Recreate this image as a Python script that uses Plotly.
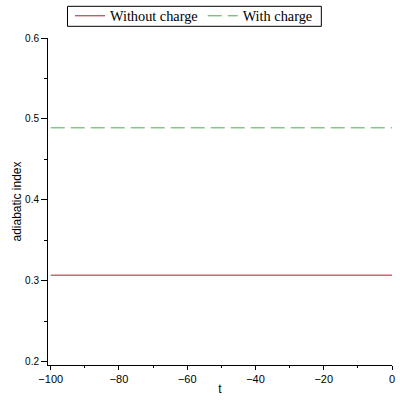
import plotly.graph_objects as go

t_vals = [-100, 0]
without_charge = [0.307, 0.307]
with_charge = [0.489, 0.489]
x_ticks = [-100, -80, -60, -40, -20, 0]
x_tick_text = ["\u2212100", "\u221280", "\u221260", "\u221240", "\u221220", "0"]
x_minor = [-90, -70, -50, -30, -10]
y_ticks = [0.2, 0.3, 0.4, 0.5, 0.6]
y_tick_text = ["0.2", "0.3", "0.4", "0.5", "0.6"]
y_minor = [0.25, 0.35, 0.45, 0.55]

fig = go.Figure()
fig.add_trace(go.Scatter(x=t_vals, y=without_charge, mode="lines", name="Without charge",
                         line=dict(color="rgb(180,25,45)", width=1)))
fig.add_trace(go.Scatter(x=t_vals, y=with_charge, mode="lines", name="With charge",
                         line=dict(color="rgb(70,175,70)", width=1, dash="14px,6px")))

fig.update_layout(
    width=400, height=400,
    margin=dict(l=47.5, r=8.3, t=37.7, b=35, autoexpand=False),
    paper_bgcolor="white", plot_bgcolor="white",
    showlegend=True,
    legend=dict(orientation="h", xref="container", yref="container",
                x=0.175, y=0.96, xanchor="left", yanchor="middle",
                borderwidth=0, bgcolor="rgba(0,0,0,0)",
                font=dict(family="Liberation Serif", size=14.3, color="black"),
                tracegroupgap=0, itemwidth=30),
    font=dict(family="Liberation Sans", size=10, color="black"),
    shapes=[dict(type="rect", xref="paper", yref="paper",
                 x0=0.0567, x1=0.7946, y0=1.0357, y1=1.0969,
                 line=dict(color="black", width=1), fillcolor="rgba(0,0,0,0)")],
)
fig.update_xaxes(range=[-100.8, 0], tickvals=x_ticks, ticktext=x_tick_text,
                 showgrid=False, zeroline=False, showline=True, linecolor="black", linewidth=1,
                 ticks="outside", ticklen=4, tickcolor="black",
                 minor=dict(tickvals=x_minor, ticks="outside", ticklen=2, tickcolor="black"),
                 title=dict(text="t", font=dict(size=12), standoff=0),
                 tickfont=dict(size=11))
fig.update_yaxes(range=[0.196, 0.6], tickvals=y_ticks, ticktext=y_tick_text,
                 showgrid=False, zeroline=False, showline=True, linecolor="black", linewidth=1,
                 ticks="outside", ticklen=6, tickcolor="black",
                 minor=dict(tickvals=y_minor, ticks="outside", ticklen=3, tickcolor="black"),
                 title=dict(text="adiabatic index", font=dict(size=12), standoff=0),
                 tickfont=dict(size=10))

fig.write_html("out.html", config={"displayModeBar": False},
               post_script="document.body.style.margin='0';")
